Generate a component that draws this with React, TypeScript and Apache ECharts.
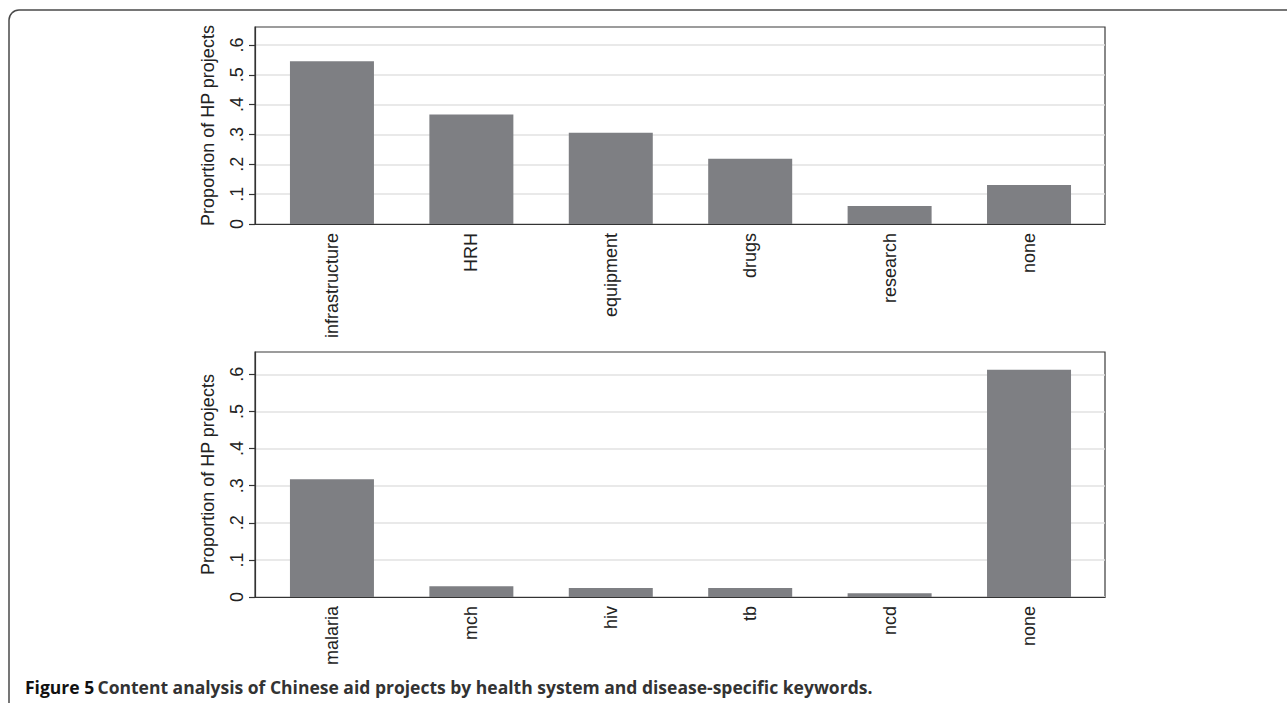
import React, { useEffect, useRef } from "react";
import * as echarts from "echarts";

const topCategories = ["infrastructure", "HRH", "equipment", "drugs", "research", "none"];
const topValues = [0.545, 0.367, 0.306, 0.219, 0.06, 0.131];
const bottomCategories = ["malaria", "mch", "hiv", "tb", "ncd", "none"];
const bottomValues = [0.317, 0.029, 0.024, 0.024, 0.01, 0.612];
const yTickValues = [0, 0.1, 0.2, 0.3, 0.4, 0.5, 0.6];
const yTickLabels = ["0", ".1", ".2", ".3", ".4", ".5", ".6"];
const yAxisTitle = "Proportion of HP projects";
const captionBold = "Figure 5";
const captionRest = "Content analysis of Chinese aid projects by health system and disease-specific keywords.";

const FONT = "Liberation Sans, Arial, sans-serif";
const BAR = "#7e7f83";
const FS = 18;

function yAxisFor(gridIndex: number) {
  return {
    type: "value",
    gridIndex,
    min: 0,
    max: 0.66,
    interval: 0.1,
    name: yAxisTitle,
    nameLocation: "middle",
    nameGap: 38,
    nameTextStyle: { fontFamily: FONT, fontSize: FS, color: "#222" },
    axisLine: { show: true, onZero: false, lineStyle: { color: "#333", width: 1.2 } },
    axisTick: {
      show: true,
      length: 6,
      lineStyle: { color: "#333", width: 1.2 },
      customValues: yTickValues,
    },
    axisLabel: {
      rotate: 90,
      margin: 9,
      fontFamily: FONT,
      fontSize: FS,
      color: "#222",
      customValues: yTickValues,
      formatter: (v: number) => {
        const i = yTickValues.findIndex((t) => Math.abs(t - v) < 1e-6);
        return i >= 0 ? yTickLabels[i] : "";
      },
    },
    splitLine: { show: true, lineStyle: { color: "#e2e2e2", width: 1.5 } },
  };
}

function xAxisFor(gridIndex: number, cats: string[]) {
  return {
    type: "value",
    gridIndex,
    min: -0.552,
    max: 5.545,
    axisLine: { show: true, onZero: false, lineStyle: { color: "#333", width: 1.2 } },
    axisTick: { show: false },
    splitLine: { show: false },
    axisLabel: {
      rotate: 90,
      margin: 9,
      fontFamily: FONT,
      fontSize: FS,
      color: "#222",
      customValues: cats.map((_, i) => i),
      formatter: (v: number) => {
        const i = Math.round(v);
        return Math.abs(v - i) < 1e-6 && cats[i] !== undefined ? cats[i] : "";
      },
    },
  };
}

export default function App() {
  const ref = useRef<HTMLDivElement>(null);
  useEffect(() => {
    document.body.style.margin = "0";
    if (!ref.current) return;
    const chart = echarts.init(ref.current, undefined, { renderer: "svg" });
    chart.setOption({
      animation: false,
      backgroundColor: "#fff",
      grid: [
        { left: 255, top: 27, right: 182, bottom: 479, show: true, borderColor: "#3a3a3a", borderWidth: 1.2, backgroundColor: "transparent" },
        { left: 255, top: 352, right: 182, bottom: 106, show: true, borderColor: "#3a3a3a", borderWidth: 1.2, backgroundColor: "transparent" },
      ],
      xAxis: [xAxisFor(0, topCategories), xAxisFor(1, bottomCategories)],
      yAxis: [yAxisFor(0), yAxisFor(1)],
      series: [
        {
          type: "bar",
          xAxisIndex: 0,
          yAxisIndex: 0,
          barWidth: 84,
          itemStyle: { color: BAR },
          data: topValues.map((v, i) => [i, v]),
        },
        {
          type: "bar",
          xAxisIndex: 1,
          yAxisIndex: 1,
          barWidth: 84,
          itemStyle: { color: BAR },
          data: bottomValues.map((v, i) => [i, v]),
        },
      ],
      graphic: [
        {
          type: "rect",
          shape: { x: 9, y: 10, width: 1400, height: 900, r: 10 },
          style: { fill: "none", stroke: "#4a4a4a", lineWidth: 1.5 },
          silent: true,
        },
        {
          type: "text",
          x: 25,
          y: 687,
          style: {
            text: `{a|${captionBold}} {b|${captionRest}}`,
            verticalAlign: "middle",
            rich: {
              a: { fontFamily: "Open Sans, sans-serif", fontWeight: "bold", fontSize: 17.5, fill: "#111" },
              b: { fontFamily: "Open Sans, sans-serif", fontWeight: "bold", fontSize: 17.5, fill: "#333" },
            },
          },
        },
      ],
    });
    return () => chart.dispose();
  }, []);
  return <div ref={ref} style={{ width: 1287, height: 703 }} />;
}
